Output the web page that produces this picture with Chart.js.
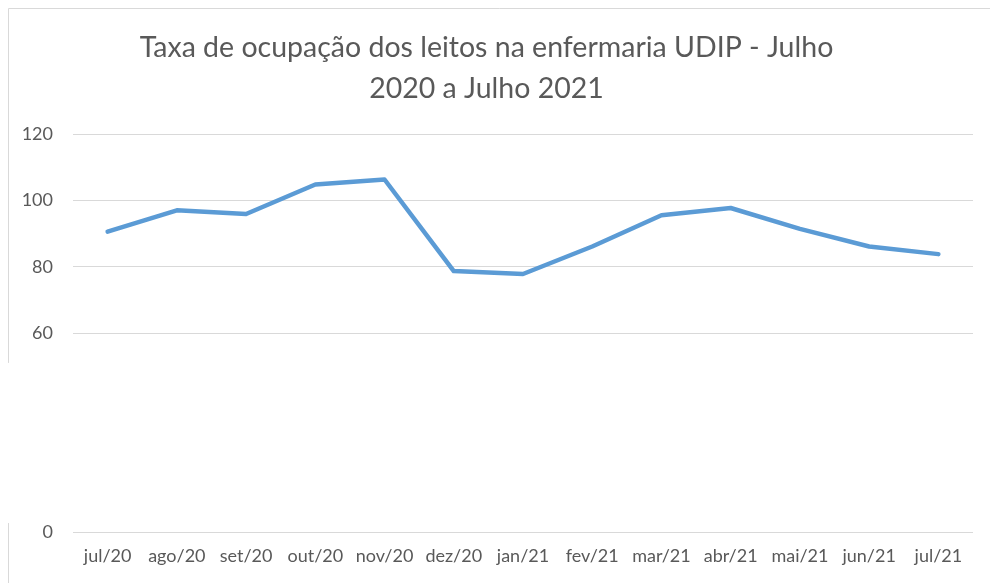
<!DOCTYPE html>
<html>
<head>
<meta charset="utf-8">
<script src="https://cdn.jsdelivr.net/npm/chart.js@4"></script>
<style>
  html, body { margin: 0; padding: 0; background: #fff; }
  #wrap { width: 990px; height: 583px; position: relative; }
</style>
</head>
<body>
<div id="wrap"><canvas id="occChart" width="990" height="583"></canvas></div>
<script>
const months = ["jul/20", "ago/20", "set/20", "out/20", "nov/20", "dez/20", "jan/21", "fev/21", "mar/21", "abr/21", "mai/21", "jun/21", "jul/21"];
const occupancy = [90.6, 97, 95.9, 104.8, 106.3, 78.7, 77.8, 86.1, 95.5, 97.7, 91.4, 86.1, 83.8];
const titleLines = ["Taxa de ocupação dos leitos na enfermaria UDIP - Julho", "2020 a Julho 2021"];
const hiddenTicks = [20, 40]; // covered in the original picture

// frame of the chart, with the gap the original has on its left edge
const framePlugin = {
    id: "frame",
    afterDraw(chart) {
        const ctx = chart.ctx, y = chart.scales.y;
        ctx.save();
        ctx.strokeStyle = "#d9d9d9";
        ctx.lineWidth = 1;
        ctx.beginPath();
        ctx.moveTo(8.5, 8.5); ctx.lineTo(990, 8.5);
        ctx.moveTo(8.5, 8.5); ctx.lineTo(8.5, y.getPixelForValue(51));
        ctx.moveTo(8.5, y.getPixelForValue(2.7)); ctx.lineTo(8.5, 583);
        ctx.stroke();
        ctx.restore();
    }
};

new Chart(document.getElementById("occChart").getContext("2d"), {
    type: "line",
    data: {
        labels: months,
        datasets: [{ data: occupancy, borderColor: "#5b9bd5", borderWidth: 4.5, borderCapStyle: "round", borderJoinStyle: "round", pointRadius: 0, tension: 0 }]
    },
    options: {
        responsive: false,
        animation: false,
        layout: { padding: { left: 0, right: 17, top: 0, bottom: 11 } },
        plugins: {
            legend: { display: false },
            tooltip: { enabled: false },
            title: { display: true, text: titleLines, color: "#595959", font: { family: "Lato", size: 28.5, weight: "normal", lineHeight: 1.44 }, padding: { top: 27, bottom: 25 } }
        },
        scales: {
            x: {
                offset: true,
                grid: { display: false, drawTicks: false },
                border: { display: false },
                ticks: { color: "#595959", font: { family: "Lato", size: 18 }, padding: 13, maxRotation: 0, autoSkip: false },
                afterFit: s => { s.height = 40; }
            },
            y: {
                min: 0, max: 120,
                grid: { color: ctx => hiddenTicks.includes(ctx.tick.value) ? "rgba(0,0,0,0)" : "#d9d9d9", drawTicks: false },
                border: { display: false },
                ticks: { stepSize: 20, color: "#595959", font: { family: "Lato", size: 18 }, padding: 20, callback: v => hiddenTicks.includes(v) ? "" : v },
                afterFit: s => { s.width = 73; }
            }
        }
    },
    plugins: [framePlugin]
});
</script>
</body>
</html>
